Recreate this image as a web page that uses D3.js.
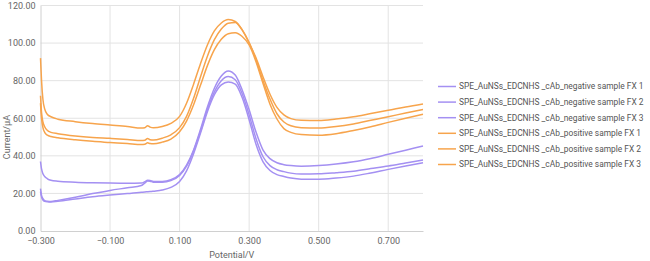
<!DOCTYPE html>
<html>
<head>
<meta charset="utf-8">
<script src="https://cdn.jsdelivr.net/npm/d3@7"></script>
<style>
  body { margin: 0; background: #fff; }
  svg { display: block; font-family: Roboto, Arial, "Liberation Sans", sans-serif; }
</style>
</head>
<body>
<svg id="chart" width="650" height="261"></svg>
<script>
// potential (V) shared by every trace
const potential = [-0.3, -0.297, -0.293, -0.288, -0.28, -0.27, -0.25, -0.2, -0.15, -0.1, -0.05, -0.01,
    0.0, 0.008, 0.015, 0.025, 0.05, 0.075, 0.1, 0.12, 0.14, 0.16, 0.18, 0.2, 0.22, 0.24, 0.26, 0.28,
    0.3, 0.32, 0.34, 0.36, 0.38, 0.4, 0.42, 0.45, 0.5, 0.55, 0.6, 0.65, 0.7, 0.75, 0.8];

const negFX1 = [37, 33, 30.5, 29, 27.8, 27, 26.5, 26, 25.7, 25.5, 25.4, 25.5,
    26.2, 27, 26.9, 26.4, 26.4, 27.3, 30, 35, 43, 54, 66, 76, 82.5, 85.2, 83, 75,
    64.5, 52.5, 43, 38.5, 36.3, 35.3, 34.8, 34.5, 34.8, 35.6, 36.8, 38.6, 40.8, 43, 45.2];
const negFX2 = [22.5, 19, 17.2, 16.2, 15.8, 15.7, 16.3, 18, 19.9, 21.6, 23, 24.2,
    25.5, 26.6, 26.5, 26, 26, 26.8, 29.5, 34.5, 42.5, 53, 64.5, 74, 80, 82.2, 80.5, 73,
    61.8, 49, 39.5, 34.8, 32.6, 31.6, 30.8, 30.3, 30.4, 31, 31.8, 33.2, 34.6, 36.2, 37.8];
const negFX3 = [21, 18, 16.5, 15.8, 15.5, 15.4, 15.8, 17, 18.2, 19.1, 19.9, 20.6,
    20.8, 20.9, 21, 21.2, 21.8, 23.2, 26.3, 32, 41, 52, 63.5, 72.5, 77.8, 79.3, 78.2, 71,
    59.2, 46, 36.8, 32.2, 30, 29, 28.2, 27.6, 27.6, 28.2, 29.2, 30.9, 32.8, 34.6, 36.3];
const posFX1 = [92, 80, 70, 65, 62, 60.8, 59.5, 58.2, 57.2, 56.4, 55.6, 54.8,
    55, 56, 55.3, 54.9, 55.6, 57.3, 61, 68, 78, 89, 99, 106.5, 110.7, 112.5, 111.5, 107,
    100, 92, 82, 72.8, 65.8, 61.8, 59.8, 58.9, 58.8, 59.6, 60.8, 62.5, 64.2, 66, 67.6];
const posFX2 = [72, 63, 58, 55.5, 53.5, 52.5, 51.8, 50.6, 49.8, 49.3, 48.7, 48.1,
    48.3, 49.2, 48.6, 48.4, 49.4, 51.2, 55, 61, 70.5, 82, 93, 101.8, 107.5, 110.6, 111, 107,
    100.3, 91, 80, 70.2, 62.4, 58, 56, 55, 54.8, 55.6, 57, 58.9, 60.8, 62.8, 64.7];
const posFX3 = [68, 60, 55, 52.5, 51, 50.3, 49.6, 48.5, 47.7, 47.1, 46.5, 46,
    46.2, 46.9, 46.5, 46.4, 47.3, 48.9, 52.8, 58.5, 67, 77.5, 88, 96.5, 102, 105, 105.5, 103.5,
    99, 90, 78.5, 67.5, 59.6, 54.5, 52.5, 51.3, 51, 51.8, 53.5, 55.5, 57.8, 60, 62.1];

const seriesNames = [
    "SPE_AuNSs_EDCNHS _cAb_negative sample FX 1",
    "SPE_AuNSs_EDCNHS _cAb_negative sample FX 2",
    "SPE_AuNSs_EDCNHS _cAb_negative sample FX 3",
    "SPE_AuNSs_EDCNHS _cAb_positive sample FX 1",
    "SPE_AuNSs_EDCNHS _cAb_positive sample FX 2",
    "SPE_AuNSs_EDCNHS _cAb_positive sample FX 3"
];
const seriesValues = [negFX1, negFX2, negFX3, posFX1, posFX2, posFX3];
const seriesColors = ["#a490f2", "#a490f2", "#a490f2", "#f7a44c", "#f7a44c", "#f7a44c"];

const xTicks = [-0.3, -0.1, 0.1, 0.3, 0.5, 0.7];
const yTicks = [0, 20, 40, 60, 80, 100, 120];

const svg = d3.select("#chart");
const m = { left: 40.5, right: 423, top: 5.5, bottom: 231 };

const x = d3.scaleLinear().domain([-0.3, 0.8]).range([m.left, m.right]);
const y = d3.scaleLinear().domain([0, 120]).range([m.bottom, m.top]);

// grid
svg.append("g").selectAll("line").data(yTicks.slice(1)).join("line")
    .attr("x1", m.left).attr("x2", m.right)
    .attr("y1", d => y(d)).attr("y2", d => y(d))
    .attr("stroke", "#e3e3e3").attr("stroke-width", 1);
svg.append("g").selectAll("line").data(xTicks.slice(1)).join("line")
    .attr("x1", d => x(d)).attr("x2", d => x(d))
    .attr("y1", m.top).attr("y2", m.bottom)
    .attr("stroke", "#e3e3e3").attr("stroke-width", 1);

// axes
const xAxis = svg.append("g").attr("transform", `translate(0,${m.bottom})`)
    .call(d3.axisBottom(x).tickValues(xTicks).tickFormat(d3.format(".3f")).tickSize(0).tickPadding(7));
const yAxis = svg.append("g").attr("transform", `translate(${m.left},0)`)
    .call(d3.axisLeft(y).tickValues(yTicks).tickFormat(d3.format(".2f")).tickSize(0).tickPadding(5));
[xAxis, yAxis].forEach(a => {
    a.select(".domain").attr("stroke", "#d0d0d0").attr("stroke-width", 1);
    a.selectAll("text").attr("fill", "#666").style("font-size", "9px")
        .style("font-family", "Roboto, Arial, sans-serif");
});

svg.append("text").attr("x", x(0.25)).attr("y", 258).attr("text-anchor", "middle")
    .attr("fill", "#666").style("font-size", "9px").text("Potential/V");
svg.append("text").attr("transform", `translate(10,${y(50)}) rotate(-90)`).attr("text-anchor", "middle")
    .attr("fill", "#666").style("font-size", "9px").text("Current/μA");

// traces
const line = d3.line().x((d, i) => x(potential[i])).y(d => y(d)).curve(d3.curveMonotoneX);
svg.append("g").selectAll("path").data(seriesValues).join("path")
    .attr("d", line)
    .attr("fill", "none")
    .attr("stroke", (d, i) => seriesColors[i])
    .attr("stroke-width", 1.5);

// legend
const legend = svg.append("g").selectAll("g").data(seriesNames).join("g")
    .attr("transform", (d, i) => `translate(438,${86.5 + i * 15.6})`);
legend.append("line").attr("x1", 0).attr("x2", 18)
    .attr("stroke", (d, i) => seriesColors[i]).attr("stroke-width", 1.5);
legend.append("text").attr("x", 21).attr("dy", "0.35em")
    .attr("fill", "#555").style("font-size", "8.4px")
    .text(d => d);
</script>
</body>
</html>
